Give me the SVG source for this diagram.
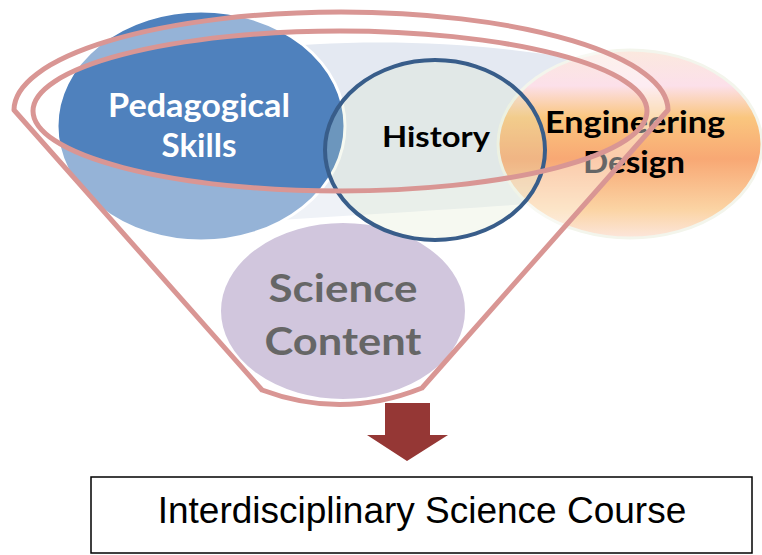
<svg xmlns="http://www.w3.org/2000/svg" width="762" height="555" viewBox="0 0 762 555">
  <defs>
    <linearGradient id="peach" x1="0" y1="0" x2="0" y2="1">
      <stop offset="0" stop-color="#FBE9DE"/>
      <stop offset="0.19" stop-color="#FCE0EA"/>
      <stop offset="0.36" stop-color="#FAC67E"/>
      <stop offset="0.58" stop-color="#F8A874"/>
      <stop offset="0.85" stop-color="#FBD4A4"/>
      <stop offset="1" stop-color="#FCE6DC"/>
    </linearGradient>
    <style>
      .lbl { font-family: "Lato", "Open Sans", sans-serif; font-weight: bold; text-anchor: middle; }
      .rim { fill: none; stroke: #D99694; stroke-width: 5; stroke-linejoin: round; }
    </style>
  </defs>
  <rect width="762" height="555" fill="#FFFFFF"/>

  <g id="backdrop">
    <path d="M 250,50 C 350,38 470,40 580,60 L 580,200 C 480,208 350,215 250,222 Z" fill="#E4E9F2"/>
  </g>

  <g id="pedagogical-skills">
    <ellipse cx="201" cy="126" rx="144" ry="115" fill="#4F81BD" stroke="#FFFFFF" stroke-width="3"/>
    <text class="lbl" x="199" y="117" font-size="32" fill="#FFFFFF" textLength="182" lengthAdjust="spacingAndGlyphs">Pedagogical</text>
    <text class="lbl" x="199" y="157" font-size="32" fill="#FFFFFF" textLength="75" lengthAdjust="spacingAndGlyphs">Skills</text>
  </g>

  <g id="science-content">
    <ellipse cx="343" cy="311" rx="123" ry="89" fill="#B2A1C7" stroke="#FFFFFF" stroke-width="2"/>
    <text class="lbl" x="343" y="302" font-size="39" fill="#000000" textLength="149" lengthAdjust="spacingAndGlyphs">Science</text>
    <text class="lbl" x="343" y="355" font-size="39" fill="#000000" textLength="157" lengthAdjust="spacingAndGlyphs">Content</text>
  </g>

  <g id="engineering-design">
    <ellipse cx="630" cy="144" rx="132" ry="94" fill="url(#peach)" stroke="#F3F5EC" stroke-width="3"/>
    <text class="lbl" x="635" y="133" font-size="30" fill="#000000" textLength="180" lengthAdjust="spacingAndGlyphs">Engineering</text>
    <text class="lbl" x="634" y="173" font-size="30" fill="#000000" textLength="102" lengthAdjust="spacingAndGlyphs">Design</text>
  </g>

  <g id="funnel-body">
    <path d="M 14,110 A 327,98 0 0 1 668,110 L 422,388 Q 342,420 262,390 Z M 33,111 A 307,80 0 1 0 647,111 A 307,80 0 1 0 33,111 Z" fill="#FFFFFF" fill-opacity="0.4" fill-rule="evenodd" stroke="none"/>
  </g>

  <g id="history">
    <ellipse cx="435" cy="150" rx="110" ry="90" fill="#D7E4BD" fill-opacity="0.22" stroke="#385D8A" stroke-width="4"/>
    <text class="lbl" x="436" y="147" font-size="29" fill="#000000" textLength="108" lengthAdjust="spacingAndGlyphs">History</text>
  </g>

  <g id="funnel-rim">
    <path class="rim" d="M 14,110 A 327,98 0 0 1 668,110 L 422,388 Q 342,420 262,390 Z"/>
    <ellipse class="rim" cx="340" cy="111" rx="307" ry="80"/>
  </g>

  <g id="connectors">
    <path d="M 385,403 L 430,403 L 430,435 L 448,435 L 407,461 L 367,435 L 385,435 Z" fill="#953735"/>
  </g>

  <g id="interdisciplinary-science-course">
    <rect x="91" y="477" width="661" height="76" fill="#FFFFFF" stroke="#000000" stroke-width="1.5"/>
    <text x="422" y="523" font-family="Liberation Sans, Arial, sans-serif" font-size="37" text-anchor="middle" fill="#000000">Interdisciplinary Science Course</text>
  </g>
</svg>
